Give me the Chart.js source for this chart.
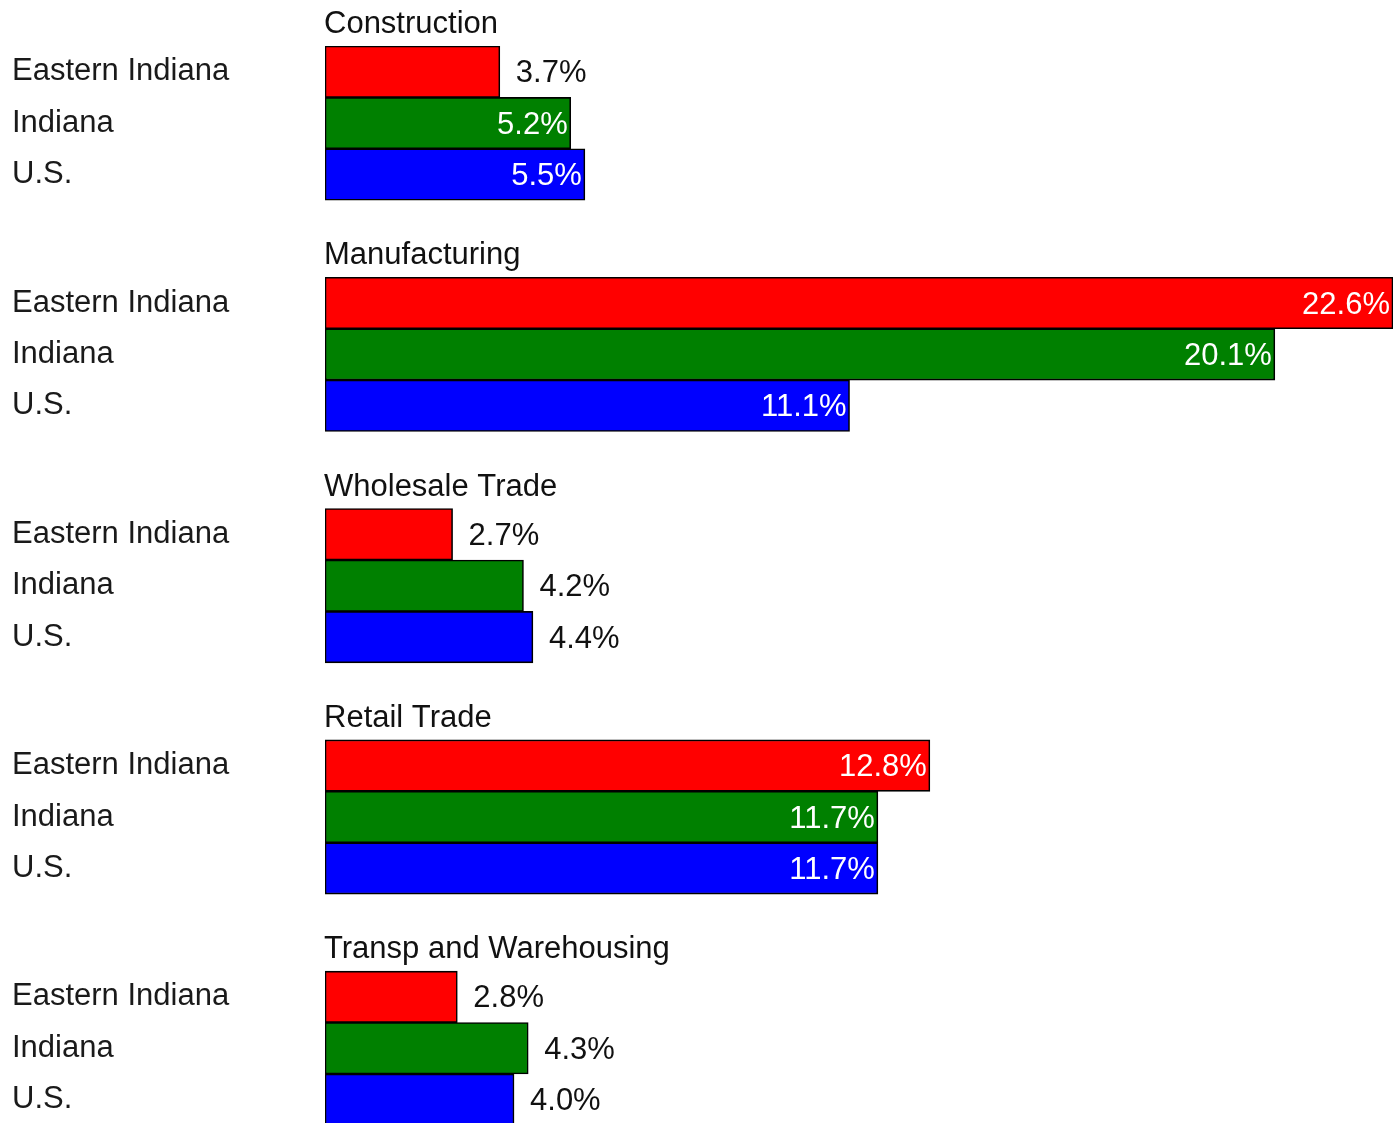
<!DOCTYPE html>
<html><head><meta charset="utf-8">
<script src="https://cdn.jsdelivr.net/npm/chart.js@4/dist/chart.umd.min.js"></script>
<style>html,body{margin:0;padding:0;background:#fff}#wrap{width:1397px;height:1123px;position:relative}</style>
</head><body><div id="wrap"><canvas id="c"></canvas></div>
<script>
const categories = ['Construction', 'Manufacturing', 'Wholesale Trade', 'Retail Trade', 'Transp and Warehousing'];
const seriesNames = ['Eastern Indiana', 'Indiana', 'U.S.'];
const easternIndiana = [3.7, 22.6, 2.7, 12.8, 2.8];
const indiana = [5.2, 20.1, 4.2, 11.7, 4.3];
const us = [5.5, 11.1, 4.4, 11.7, 4.0];

const seriesValues = [easternIndiana, indiana, us];
const seriesColors = ['#ff0000', '#008000', '#0000ff'];
const GROUP_STEP = 4.5;
const INSIDE_MIN = 5;
const FONT = '"Liberation Sans", Arial, sans-serif';
const FONT_SIZE = 31;
const rowPos = (g, i) => g * GROUP_STEP + i;

const tickValues = [];
const tickLabels = [];
categories.forEach((c, g) => seriesNames.forEach((s, i) => { tickValues.push(rowPos(g, i)); tickLabels.push(s); }));

const datasets = seriesNames.map((name, i) => ({
  label: name,
  data: categories.map((c, g) => ({ x: seriesValues[i][g], y: rowPos(g, i) })),
  backgroundColor: seriesColors[i],
  borderColor: '#000',
  borderWidth: 1.6,
  borderSkipped: false,
  categoryPercentage: 1,
  barPercentage: 1
}));

const labelPlugin = {
  id: 'labels',
  afterDatasetsDraw(chart) {
    const { ctx, scales: { x, y } } = chart;
    ctx.save();
    ctx.font = FONT_SIZE + 'px ' + FONT;
    categories.forEach((c, g) => {
      ctx.fillStyle = '#111';
      ctx.textAlign = 'left';
      ctx.textBaseline = 'alphabetic';
      ctx.fillText(c, x.getPixelForValue(0) - 1, y.getPixelForValue(rowPos(g, 0) - 0.5) - 13);
    });
    chart.data.datasets.forEach((ds, di) => {
      const meta = chart.getDatasetMeta(di);
      meta.data.forEach((bar, j) => {
        const v = ds.data[j].x;
        const txt = v.toFixed(1) + '%';
        ctx.textBaseline = 'middle';
        if (v >= INSIDE_MIN) {
          ctx.fillStyle = '#fff';
          ctx.textAlign = 'right';
          ctx.fillText(txt, bar.x - 3, bar.y + 2);
        } else {
          ctx.fillStyle = '#111';
          ctx.textAlign = 'left';
          ctx.fillText(txt, bar.x + 16, bar.y + 2);
        }
      });
    });
    ctx.restore();
  }
};

const PX_PER_UNIT = 51.4;
const yMax = -0.5 + (1123 - 46) / PX_PER_UNIT;

new Chart(document.getElementById('c'), {
  type: 'bar',
  data: { datasets },
  plugins: [labelPlugin],
  options: {
    indexAxis: 'y',
    responsive: true,
    maintainAspectRatio: false,
    animation: false,
    grouped: false,
    layout: { autoPadding: false, padding: { left: 12, top: 46, right: 4, bottom: 0 } },
    plugins: { legend: { display: false }, tooltip: { enabled: false } },
    scales: {
      x: { type: 'linear', display: false, min: 0, max: 22.6 },
      y: {
        type: 'linear',
        reverse: true,
        offset: false,
        min: -0.5,
        max: yMax,
        grid: { display: false, offset: false },
        border: { display: false },
        afterBuildTicks: (scale) => { scale.ticks = tickValues.map(v => ({ value: v })); },
        afterFit: (scale) => { scale.width = 313; scale.paddingTop = 0; scale.paddingBottom = 0; },
        ticks: {
          autoSkip: false,
          crossAlign: 'far',
          color: '#1a1a1a',
          font: { family: FONT, size: FONT_SIZE },
          callback: (value) => tickLabels[tickValues.indexOf(value)]
        }
      }
    }
  }
});
</script>
</body></html>
